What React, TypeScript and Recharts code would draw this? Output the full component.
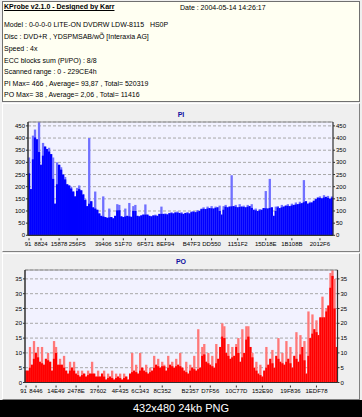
import React from 'react';
import { BarChart, Bar, XAxis, YAxis, CartesianGrid, ReferenceLine } from 'recharts';

const INFO_TITLE = 'KProbe v2.1.0 - Designed by Karr';
const INFO_DATE = 'Date : 2004-05-14 14:26:17';
const INFO_LINES = [
  'Model : 0-0-0-0 LITE-ON DVDRW LDW-8115   HS0P',
  'Disc : DVD+R , YDSPMSAB/wÕ [Interaxia AG]',
  'Speed : 4x',
  'ECC blocks sum (PI/PO) : 8/8',
  'Scanned range : 0 - 229CE4h',
  'PI Max= 466 , Average= 93,87 , Total= 520319',
  'PO Max= 38 , Average= 2,06 , Total= 11416',
];
const FOOTER = '432x480 24kb PNG';

const PI_TITLE = 'PI';
const PI_MAX = 466;
const PI_Y_TICKS = [0, 50, 100, 150, 200, 250, 300, 350, 400, 450];
const PI_VALUES = [
  320, 190, 410, 435, 395, 466, 290, 380, 365, 355,
  360, 334, 320, 130, 300, 290, 280, 250, 240, 210,
  205, 200, 180, 160, 195, 205, 185, 170, 150, 120,
  400, 140, 115, 180, 105, 90, 80, 160, 75, 72,
  110, 75, 70, 80, 128, 125, 78, 75, 110, 80,
  133, 76, 120, 125, 80, 78, 82, 85, 127, 85,
  80, 78, 82, 85, 80, 88, 118, 88, 90, 86,
  92, 95, 90, 94, 98, 92, 95, 88, 92, 96,
  90, 98, 100, 95, 104, 100, 110, 115, 108, 118,
  112, 120, 110, 118, 115, 122, 85, 120, 125, 115,
  118, 247, 120, 125, 115, 128, 118, 122, 115, 125,
  120, 128, 105, 110, 100, 108, 105, 112, 182, 110,
  232, 115, 80, 118, 120, 112, 125, 118, 122, 128,
  120, 130, 125, 135, 128, 138, 132, 227, 140, 130,
  138, 135, 142, 150, 155, 160, 152, 165, 158, 162,
  150, 160,
];
const PI_TICK_INDEX = [0, 6, 15, 24, 37, 47, 58, 68, 81, 91, 104, 118, 131, 145];
const PI_TICK_LABELS = ['91', '8824', '15878', '256F5', '39406', '51F70', '6F571', '8EF94', 'B47F3', 'DD550', '1151F2', '15D18E', '1B108B', '2012F6'];

const PO_TITLE = 'PO';
const PO_MAX = 38;
const PO_Y_TICKS = [0, 5, 10, 15, 20, 25, 30, 35];
const PO_VALUES = [
  4, 4, 12, 6, 14, 10, 12, 7, 12, 6,
  8, 10, 7, 4, 14, 12, 6, 8, 6, 9,
  4, 3, 7, 5, 7, 3, 4, 2, 4, 3,
  2, 4, 3, 7, 3, 2, 4, 2, 3, 4,
  1, 3, 2, 4, 1, 3, 2, 3, 1, 3,
  2, 1, 3, 10, 4, 6, 3, 10, 5, 4,
  6, 3, 5, 4, 9, 6, 8, 5, 7, 6,
  4, 9, 6, 7, 5, 8, 6, 10, 5, 4,
  7, 3, 6, 5, 9, 4, 18, 5, 12, 13,
  7, 10, 6, 9, 5, 13, 8, 12, 20, 19,
  10, 13, 8, 12, 9, 13, 15, 7, 18, 10,
  19, 19, 12, 10, 5, 7, 3, 6, 2, 4,
  12, 6, 8, 11, 5, 9, 15, 7, 10, 6,
  14, 8, 12, 5, 9, 17, 7, 16, 12, 14,
  3, 24, 15, 23, 18, 21, 16, 22, 29, 22,
  25, 26, 37, 38, 35, 12,
];
const PO_TICK_INDEX = [0, 5, 15, 25, 36, 47, 57, 68, 82, 92, 105, 118, 132, 145];
const PO_TICK_LABELS = ['91', '8446', '14E49', '2478E', '37602', '4F435', '6C343', '8C352', 'B2357', 'D7F56', '10C77D', '152E90', '19F836', '1EDF78'];

const FONT = '"Liberation Sans", Arial, sans-serif';
const AXIS_DARK = '#303030';

const makeXTick = (tickIndex: number[], labels: string[], firstShift: number) => (props: any) => {
  const { x, y, payload } = props;
  const k = tickIndex.indexOf(Number(payload.value));
  if (k < 0) return <g />;
  const lx = k === 0 ? x + firstShift : x;
  return (
    <g>
      <line x1={x} x2={x} y1={y - 3} y2={y - 1} stroke={AXIS_DARK} strokeWidth={1} />
      <text x={lx} y={y} dy="0.71em" textAnchor="middle" fontSize={6} fontFamily={FONT} fill="#000">
        {labels[k]}
      </text>
    </g>
  );
};

const makeShape = (values: number[], dark: string, light: string, w: number) => (props: any) => {
  const { x, y, width, height, index } = props;
  if (!height || height <= 0) return <g />;
  const v = values[index];
  const prev = index > 0 ? values[index - 1] : v;
  const next = index < values.length - 1 ? values[index + 1] : v;
  const base = Math.min(v, (prev + next) / 2);
  const bottom = y + height;
  const yBase = bottom - (base / v) * height;
  const cx = x + width / 2;
  return (
    <g>
      <rect x={cx - w / 2} y={y} width={w} height={height} fill={light} />
      <rect x={cx - w / 2} y={yBase} width={w} height={bottom - yBase} fill={dark} />
    </g>
  );
};

type ChartProps = {
  values: number[];
  max: number;
  yTicks: number[];
  tickIndex: number[];
  tickLabels: string[];
  color: string;
  light: string;
  margin: { top: number; right: number; bottom: number; left: number };
  leftW: number;
  rightW: number;
  height: number;
  firstShift: number;
};

function ProbeChart(p: ChartProps) {
  const data = p.values.map((v, i) => ({ i, v }));
  const yTickStyle = { fontSize: 6, fill: '#000', fontFamily: FONT };
  return (
    <BarChart width={362} height={p.height} data={data} margin={p.margin} barCategoryGap={0} barGap={0}>
      <CartesianGrid yAxisId="l" vertical={false} strokeDasharray="3 2" stroke="#A8A8A8" fill="#F2F2FF" />
      <XAxis
        dataKey="i"
        type="category"
        interval={0}
        height={14}
        tickLine={false}
        tickSize={3}
        tickMargin={3}
        axisLine={{ stroke: AXIS_DARK, strokeWidth: 1.2 }}
        tick={makeXTick(p.tickIndex, p.tickLabels, p.firstShift)}
      />
      <YAxis
        yAxisId="l"
        orientation="left"
        width={p.leftW}
        domain={[0, p.max]}
        ticks={p.yTicks}
        interval={0}
        allowDataOverflow
        tickSize={2}
        tickMargin={1}
        tickLine={{ stroke: AXIS_DARK }}
        axisLine={{ stroke: AXIS_DARK, strokeWidth: 1.5 }}
        tick={yTickStyle}
      />
      <YAxis
        yAxisId="r"
        orientation="right"
        width={p.rightW}
        domain={[0, p.max]}
        ticks={p.yTicks}
        interval={0}
        allowDataOverflow
        tickSize={2}
        tickMargin={1}
        tickLine={{ stroke: AXIS_DARK }}
        axisLine={{ stroke: AXIS_DARK, strokeWidth: 1.2 }}
        tick={yTickStyle}
      />
      <ReferenceLine yAxisId="l" y={p.max} stroke="#8C8C8C" strokeWidth={1} />
      <Bar
        yAxisId="l"
        dataKey="v"
        fill={p.color}
        isAnimationActive={false}
        shape={makeShape(p.values, p.color, p.light, 2.3)}
      />
    </BarChart>
  );
}

export default function App() {
  const lineTops = [21, 33, 45, 56.5, 68, 79.5, 90.5];
  return (
    <div
      style={{
        position: 'absolute',
        left: 0,
        top: 0,
        width: 362,
        height: 417,
        background: '#EFEFEF',
        fontFamily: FONT,
        overflow: 'hidden',
      }}
    >
      <div
        style={{
          position: 'absolute',
          left: 2,
          top: 1,
          width: 356,
          height: 99,
          border: '1px solid #707070',
          background: '#FFFFF2',
        }}
      />
      <div
        style={{
          position: 'absolute',
          left: 4,
          top: 3,
          fontSize: 7,
          fontWeight: 'bold',
          textDecoration: 'underline',
          whiteSpace: 'pre',
          lineHeight: '8px',
          color: '#000',
        }}
      >
        {INFO_TITLE}
      </div>
      <div style={{ position: 'absolute', left: 180, top: 4, fontSize: 7, whiteSpace: 'pre', lineHeight: '8px', color: '#000' }}>
        {INFO_DATE}
      </div>
      {INFO_LINES.map((t, i) => (
        <div
          key={i}
          style={{ position: 'absolute', left: 4, top: lineTops[i], fontSize: 7, whiteSpace: 'pre', lineHeight: '8px', color: '#000' }}
        >
          {t}
        </div>
      ))}

      <div style={{ position: 'absolute', left: 2, top: 103, width: 356, height: 147, borderTop: '1px solid #FFFFFF', borderBottom: '1px solid #808080', borderLeft: '1px solid #FFFFFF', borderRight: '1px solid #808080' }} />
      <div style={{ position: 'absolute', left: 2, top: 253, width: 356, height: 145, borderTop: '1px solid #FFFFFF', borderBottom: '1px solid #808080', borderLeft: '1px solid #FFFFFF', borderRight: '1px solid #808080' }} />

      <div style={{ position: 'absolute', left: 0, top: 111, width: 362, textAlign: 'center', fontSize: 7, fontWeight: 'bold', color: '#1010A0', lineHeight: '8px' }}>
        {PI_TITLE}
      </div>
      <div style={{ position: 'absolute', left: 0, top: 258, width: 362, textAlign: 'center', fontSize: 7, fontWeight: 'bold', color: '#1010A0', lineHeight: '8px' }}>
        {PO_TITLE}
      </div>

      <div style={{ position: 'absolute', left: 0, top: 104 }}>
        <ProbeChart
          values={PI_VALUES}
          max={PI_MAX}
          yTicks={PI_Y_TICKS}
          tickIndex={PI_TICK_INDEX}
          tickLabels={PI_TICK_LABELS}
          color="#0000FF"
          light="#7070FF"
          height={147}
          leftW={24}
          rightW={24}
          firstShift={-1}
          margin={{ top: 18, right: 5, bottom: 1.7, left: 4 }}
        />
      </div>
      <div style={{ position: 'absolute', left: 0, top: 254 }}>
        <ProbeChart
          values={PO_VALUES}
          max={PO_MAX}
          yTicks={PO_Y_TICKS}
          tickIndex={PO_TICK_INDEX}
          tickLabels={PO_TICK_LABELS}
          color="#FF0000"
          light="#FF7878"
          height={144}
          leftW={20}
          rightW={20}
          firstShift={-2.5}
          margin={{ top: 16, right: 4.5, bottom: 1.5, left: 5 }}
        />
      </div>

      <div
        style={{
          position: 'absolute',
          left: 0,
          top: 400,
          width: 362,
          height: 17,
          background: '#000',
          color: '#FFF',
          fontSize: 11,
          lineHeight: '17px',
          textAlign: 'center',
          fontFamily: FONT,
        }}
      >
        {FOOTER}
      </div>
    </div>
  );
}
